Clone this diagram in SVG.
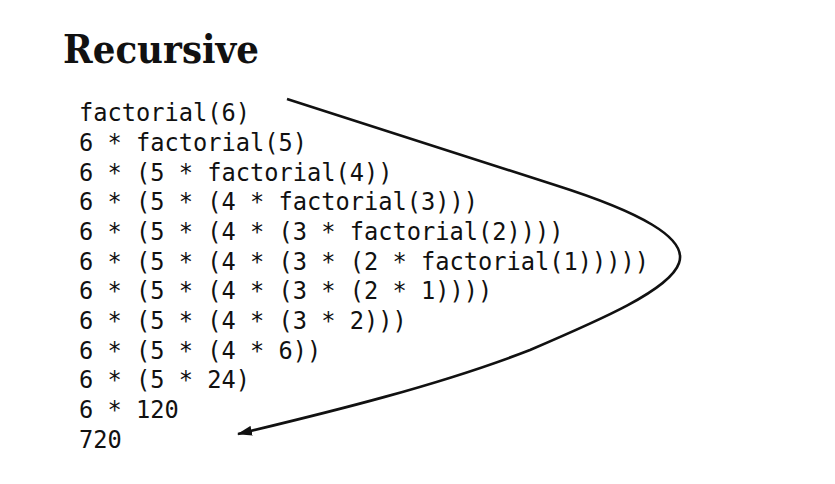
<svg xmlns="http://www.w3.org/2000/svg" width="835" height="484" viewBox="0 0 835 484">
<style>
.t{font-family:"DejaVu Serif","Liberation Serif",serif;font-weight:bold;font-size:39px;fill:#111}
.c{font-family:"DejaVu Sans Mono","Liberation Mono",monospace;font-size:24.5px;fill:#111}
.a{fill:none;stroke:#111;stroke-width:2.6}
</style>
<defs>
<marker id="ah" markerWidth="15" markerHeight="10" refX="14" refY="5" orient="auto" markerUnits="userSpaceOnUse">
<path d="M0,0 L15,5 L0,10 Z" fill="#111"/>
</marker>
</defs>
<rect width="835" height="484" fill="#fff"/>
<g id="title"><text class="t" x="63" y="63" textLength="196" lengthAdjust="spacingAndGlyphs">Recursive</text></g>
<g id="lines">
<text class="c" x="79" y="120.5" textLength="171" lengthAdjust="spacingAndGlyphs">factorial(6)</text>
<text class="c" x="79" y="151" textLength="228" lengthAdjust="spacingAndGlyphs">6 * factorial(5)</text>
<text class="c" x="79" y="180.65" textLength="313.5" lengthAdjust="spacingAndGlyphs">6 * (5 * factorial(4))</text>
<text class="c" x="79" y="210.3" textLength="399" lengthAdjust="spacingAndGlyphs">6 * (5 * (4 * factorial(3)))</text>
<text class="c" x="79" y="239.95" textLength="484.5" lengthAdjust="spacingAndGlyphs">6 * (5 * (4 * (3 * factorial(2))))</text>
<text class="c" x="79" y="269.6" textLength="570" lengthAdjust="spacingAndGlyphs">6 * (5 * (4 * (3 * (2 * factorial(1)))))</text>
<text class="c" x="79" y="299.25" textLength="413.25" lengthAdjust="spacingAndGlyphs">6 * (5 * (4 * (3 * (2 * 1))))</text>
<text class="c" x="79" y="328.9" textLength="327.75" lengthAdjust="spacingAndGlyphs">6 * (5 * (4 * (3 * 2)))</text>
<text class="c" x="79" y="358.55" textLength="242.25" lengthAdjust="spacingAndGlyphs">6 * (5 * (4 * 6))</text>
<text class="c" x="79" y="388.2" textLength="171" lengthAdjust="spacingAndGlyphs">6 * (5 * 24)</text>
<text class="c" x="79" y="417.85" textLength="99.75" lengthAdjust="spacingAndGlyphs">6 * 120</text>
<text class="c" x="79" y="447.5" textLength="42.75" lengthAdjust="spacingAndGlyphs">720</text>
</g>
<g id="connectors">
<path class="a" marker-end="url(#ah)" d="M287,99 L555,185 C640,212 688,238 679,263 C670,290 600,320 530,350 C440,385 330,412 238,434"/>
</g>
</svg>
